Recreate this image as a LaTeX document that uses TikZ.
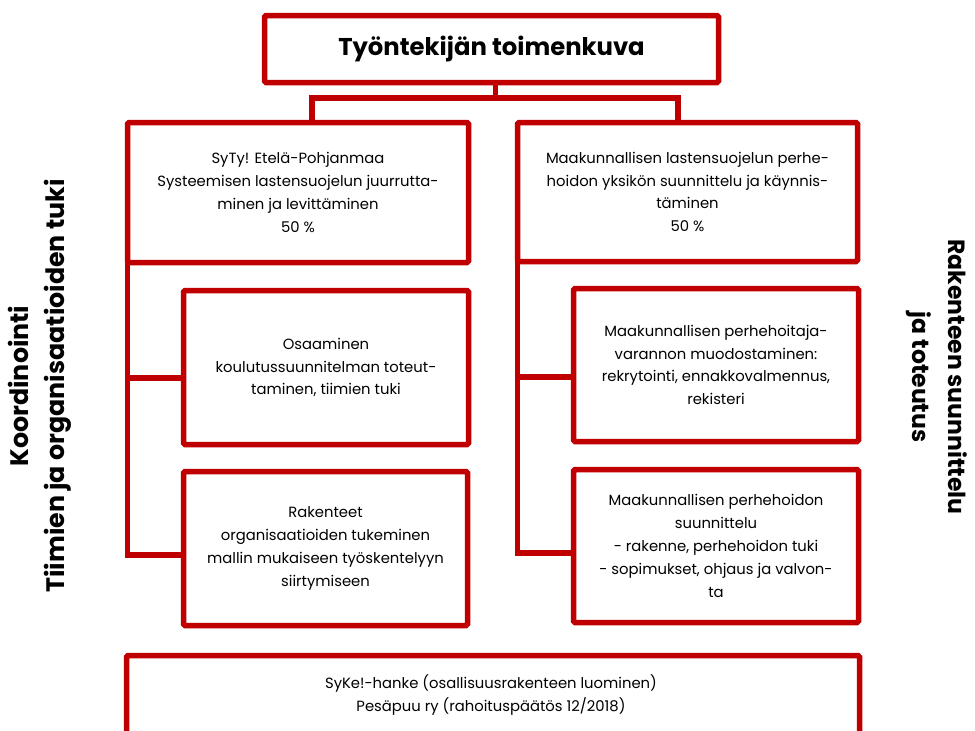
\documentclass[tikz,border=0pt]{standalone}
\usepackage{fontspec}
\setmainfont{Poppins}
\definecolor{boxred}{HTML}{C00000}
\begin{document}
\begin{tikzpicture}[x=1pt,y=-1pt,
  box/.style={draw=boxred, line width=5.5pt, rounded corners=1.5pt, fill=white,
    outer sep=0pt, inner sep=0pt, align=center, font=\fontsize{14.8}{22.8}\selectfont},
  conn/.style={draw=boxred, line width=5.5pt},
  side/.style={align=center}]
\useasboundingbox (0,0) rectangle (975,731);
\clip (0,0) rectangle (975,731);
\node[box, minimum width=454pt, minimum height=67pt, font=\bfseries\fontsize{24.3}{28}\selectfont] (top) at (491.5,49) {Työntekijän toimenkuva};
\node[box, minimum width=341pt, minimum height=140pt] (L0) at (298,192.5) {SyTy! Etelä-Pohjanmaa\\Systeemisen lastensuojelun juurrutta-\\minen ja levittäminen\\50 \%};
\node[box, minimum width=340pt, minimum height=139pt] (R0) at (687.5,192) {Maakunnallisen lastensuojelun perhe-\\hoidon yksikön suunnittelu ja käynnis-\\täminen\\50 \%};
\node[box, minimum width=285pt, minimum height=154pt] (L1) at (326,367.5) {Osaaminen\\koulutussuunnitelman toteut-\\taminen, tiimien tuki};
\node[box, minimum width=284pt, minimum height=154pt] (L2) at (325.5,548.5) {Rakenteet\\organisaatioiden tukeminen\\mallin mukaiseen työskentelyyn\\siirtymiseen};
\node[box, minimum width=285pt, minimum height=153pt] (R1) at (716,365) {Maakunnallisen perhehoitaja-\\varannon muodostaminen:\\rekrytointi, ennakkovalmennus,\\rekisteri};
\node[box, minimum width=285pt, minimum height=153pt] (R2) at (716,546) {Maakunnallisen perhehoidon\\suunnittelu\\- rakenne, perhehoidon tuki\\- sopimukset, ohjaus ja valvon-\\ta};
\node[box, minimum width=733pt, minimum height=90pt] (B) at (493,700.5) {};
\node[align=center, font=\fontsize{14.8}{22.5}\selectfont] (Bt) at (491,695) {SyKe!-hanke (osallisuusrakenteen luominen)\\Pesäpuu ry (rahoituspäätös 12/2018)};
\node[side, rotate=90, font=\bfseries\fontsize{25.3}{36}\selectfont] (SL) at (40,386) {Koordinointi\\Tiimien ja organisaatioiden tuki};
\node[side, rotate=-90, font=\bfseries\fontsize{23.5}{36}\selectfont] (SR) at (937,377) {Rakenteen suunnittelu\\ja toteutus};
% connectors
\coordinate (j) at ([xshift=4pt,yshift=-15.5pt]top.south);
\coordinate (l1) at ([yshift=-10.5pt]L1.west);
\coordinate (l2) at ([yshift=-6.5pt]L2.west);
\coordinate (r1) at ([yshift=-12pt]R1.west);
\coordinate (r2) at ([yshift=-7pt]R2.west);
\draw[conn] ([xshift=4pt]top.south) -- (j);
\draw[conn] ([xshift=14pt]L0.north) |- (j) -| ([xshift=-9.5pt]R0.north);
\draw[conn] (L0.south west) |- (l2);
\draw[conn] (L0.south west |- l1) -- (l1);
\draw[conn] (R0.south west) |- (r2);
\draw[conn] (R0.south west |- r1) -- (r1);
\end{tikzpicture}
\end{document}
